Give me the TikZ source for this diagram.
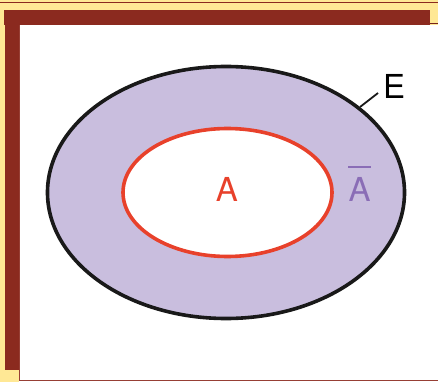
\documentclass[tikz,border=0pt]{standalone}
\usepackage{fontspec}
\setmainfont{TeX Gyre Heros}
\usetikzlibrary{shapes.geometric}
\definecolor{frameRed}{HTML}{8B2A1F}
\definecolor{frameYel}{HTML}{FFE895}
\definecolor{setFill}{HTML}{C9BEDE}
\definecolor{setRed}{HTML}{E8412B}
\definecolor{compPurple}{HTML}{8A6DB6}
\tikzset{
  setline/.style={ellipse, draw, line width=3.6pt, inner sep=0pt},
  lbl/.style={font=\fontsize{33}{33}\selectfont, inner sep=0pt}
}
\begin{document}
\begin{tikzpicture}[x=1pt,y=-1pt]
\useasboundingbox (0,0) rectangle (438,382);
% frame
\fill[frameYel] (0,0) rectangle (438,382);
\fill[frameRed] (0,2) rectangle (438,3.3);
\fill[frameRed] (4,10) rectangle (430,25);
\fill[frameRed] (5,10) rectangle (19,370);
\fill[frameRed!85!black] (430,23) rectangle (438,24.2);
\fill[white] (19,25) rectangle (438,382);
\draw[frameRed!90!white, line width=1.2pt] (19.8,25) -- (19.8,380.6) -- (438,380.6);
% sets
\node[setline, fill=setFill, draw=black!90, minimum width=357pt, minimum height=252pt] (E) at (226,192.5) {};
\node[setline, fill=white, draw=setRed, minimum width=209pt, minimum height=128pt] (A) at (227.5,192.5) {};
% labels
\node[lbl, text=setRed] (Alab) at (227,189) {A};
\node[lbl, text=compPurple] (Abar) at (359.5,189) {A};
\draw[compPurple, line width=2.2pt] (348,167) -- (371,167);
\node[lbl, text=black] (Elab) at (394,86) {E};
\coordinate (Etip) at (360,107);
\draw[black!90, line width=1.8pt] (Etip) -- (378,93);
\end{tikzpicture}
\end{document}
